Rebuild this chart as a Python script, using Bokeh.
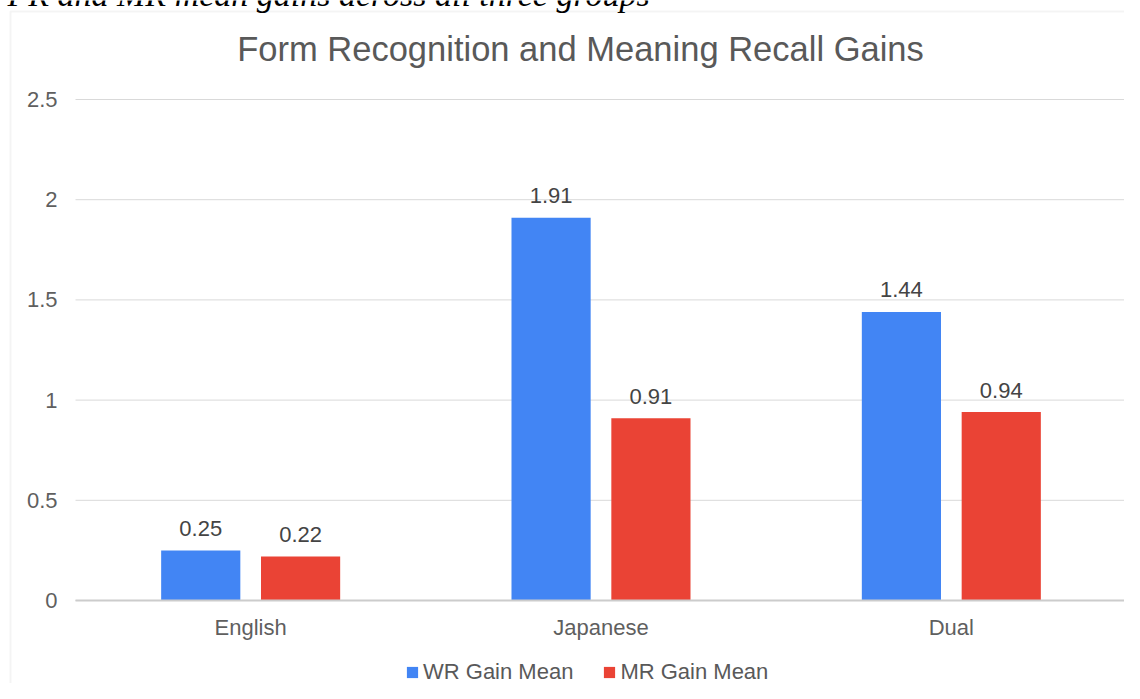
from bokeh.plotting import figure
from bokeh.models import (ColumnDataSource, Range1d, FixedTicker, NumeralTickFormatter,
                          Legend, LegendItem, Label, BoxAnnotation)
from bokeh.transform import dodge
from bokeh.core.properties import value
from bokeh.embed import file_html
from bokeh.resources import INLINE

# ---- data ----
caption = "FR and MR mean gains across all three groups"
chart_title = "Form Recognition and Meaning Recall Gains"
groups = ["English", "Japanese", "Dual"]
wr_gain_mean = [0.25, 1.91, 1.44]
mr_gain_mean = [0.22, 0.91, 0.94]
series_names = ["WR Gain Mean", "MR Gain Mean"]
y_ticks = [0, 0.5, 1, 1.5, 2, 2.5]

# ---- layout constants (pixels on the canvas) ----
W, H = 1124, 683
PLOT_L, PLOT_R = 75, 1126       # extent of the category area
Y_ZERO_PX, Y_TOP_PX = 600, 99   # pixel rows of 0 and of the top tick
BLUE = "#4285F4"
RED = "#EA4335"
FONT = "Liberation Sans"
TXT = "#595959"

n = len(groups)
gx = [i + 0.5 for i in range(n)]
x_per_px = n / (PLOT_R - PLOT_L)
y_top = y_ticks[-1]
y_per_px = y_top / (Y_ZERO_PX - Y_TOP_PX)

src = ColumnDataSource(dict(
    gx=gx,
    wr=wr_gain_mean,
    mr=mr_gain_mean,
    wr_lbl=[f"{v:.2f}" for v in wr_gain_mean],
    mr_lbl=[f"{v:.2f}" for v in mr_gain_mean],
))
grid_src = ColumnDataSource(dict(x0=[0] * len(y_ticks), x1=[n] * len(y_ticks), y=y_ticks))

p = figure(width=W, height=H,
           x_range=Range1d(-PLOT_L * x_per_px, (W - PLOT_L) * x_per_px),
           y_range=Range1d(-(H - Y_ZERO_PX) * y_per_px, y_top + Y_TOP_PX * y_per_px),
           output_backend="svg", toolbar_location=None, min_border=0)
p.outline_line_color = None
p.background_fill_color = "white"
p.border_fill_color = "white"
p.xgrid.visible = False
p.ygrid.visible = False

# gridlines over the category area
p.segment(x0="x0", x1="x1", y0="y", y1="y", source=grid_src,
          line_color="#d9d9d9", line_width=1)

off = 0.1425
bw = 0.226
r_wr = p.vbar(x=dodge("gx", -off), top="wr", width=bw, source=src,
              fill_color=BLUE, line_color=None)
r_mr = p.vbar(x=dodge("gx", off), top="mr", width=bw, source=src,
              fill_color=RED, line_color=None)

# baseline
p.segment(x0=[0], x1=[n], y0=[0], y1=[0], line_color="#cccccc", line_width=2)

p.text(x=dodge("gx", -off), y="wr", text="wr_lbl", source=src,
       text_align="center", text_baseline="alphabetic", y_offset=-22,
       text_font=value(FONT), text_font_size="22px", text_color="#444444")
p.text(x=dodge("gx", off), y="mr", text="mr_lbl", source=src,
       text_align="center", text_baseline="alphabetic", y_offset=-22,
       text_font=value(FONT), text_font_size="22px", text_color="#444444")

# axes
p.yaxis.fixed_location = 0
p.xaxis.fixed_location = 0
p.yaxis.ticker = FixedTicker(ticks=y_ticks)
p.yaxis.formatter = NumeralTickFormatter(format="0.[0]")
p.xaxis.ticker = FixedTicker(ticks=gx)
p.xaxis.major_label_overrides = {x: g for x, g in zip(gx, groups)}
for ax in (p.xaxis[0], p.yaxis[0]):
    ax.axis_line_color = None
    ax.major_tick_line_color = None
    ax.minor_tick_line_color = None
    ax.major_tick_out = 0
    ax.major_tick_in = 0
    ax.major_label_text_font = FONT
    ax.major_label_text_font_size = "22px"
    ax.major_label_text_color = "#5f5f5f"
p.yaxis.major_label_standoff = 18
p.xaxis.major_label_standoff = 14

legend = Legend(items=[LegendItem(label=series_names[0], renderers=[r_wr]),
                       LegendItem(label=series_names[1], renderers=[r_mr])],
                orientation="horizontal", location=(405, -2),
                glyph_width=14, glyph_height=14, label_standoff=4, spacing=29,
                padding=0, margin=0, border_line_color=None, background_fill_alpha=0,
                label_text_font=FONT, label_text_font_size="22px", label_text_color=TXT)
p.add_layout(legend)

# chart border (left and top edges visible)
p.add_layout(BoxAnnotation(left=10, right=3000, top=11, bottom=3000,
                           left_units="canvas", right_units="canvas",
                           top_units="canvas", bottom_units="canvas",
                           fill_alpha=0, line_color="#d9d9d9", line_width=2))

p.add_layout(Label(x=580, y=48, x_units="canvas", y_units="canvas", text=chart_title,
                   text_align="center", text_baseline="middle",
                   text_font=FONT, text_font_size="34.5px", text_color=TXT))
p.add_layout(Label(x=7, y=-6, x_units="canvas", y_units="canvas", text=caption,
                   text_align="left", text_baseline="middle",
                   text_font="Liberation Serif", text_font_style="italic",
                   text_font_size="34px", text_color="black"))

open("out.html", "w").write(file_html(p, INLINE))
